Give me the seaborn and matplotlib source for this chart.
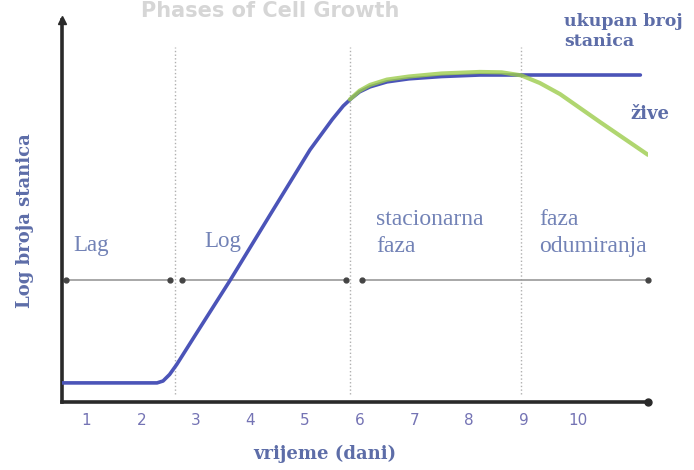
import numpy as np
import pandas as pd
import seaborn as sns
import matplotlib.pyplot as plt

# curve (x = days, y = log of cell count, arbitrary units)
total_x = [0.55, 2.29, 2.4, 2.52, 2.65, 2.99, 3.63, 4.36, 5.09, 5.5, 5.7, 5.85,
           6.0, 6.19, 6.5, 6.9, 7.5, 8.2, 11.14]
total_y = [0.5, 0.5, 0.55, 0.72, 0.98, 1.75, 3.19, 4.9, 6.6, 7.4, 7.75, 7.95,
           8.12, 8.25, 8.38, 8.46, 8.52, 8.56, 8.56]
alive_x = [5.82, 6.0, 6.19, 6.5, 6.9, 7.5, 8.2, 8.6, 8.96, 9.3, 9.67, 10.4, 11.28]
alive_y = [7.92, 8.15, 8.3, 8.44, 8.52, 8.6, 8.64, 8.63, 8.55, 8.35, 8.06, 7.33, 6.47]
phase_edges = [2.62, 5.83, 8.96]
arrow_segments = [(0.62, 2.53), (2.75, 5.75), (6.04, 11.28)]
day_ticks = [1, 2, 3, 4, 5, 6, 7, 8, 9, 10]

sns.set_theme(style="white")
plt.rcParams['font.family'] = ['DejaVu Sans']

fig = plt.figure(figsize=(6.94, 4.70), dpi=100)
ax = fig.add_axes([62 / 694, 68 / 470, 586 / 694, 382 / 470])
ax.set_xlim(0.55, 11.28)
ax.set_ylim(0, 10)

blue = '#4b54b8'
green = '#9ccc4c'
txt = '#5d6da8'
phase_col = '#7282b6'

# phase separators
for xe in phase_edges:
    ax.plot([xe, xe], [0.2, 9.3], color='#b0b0b0', lw=1, ls=':', zorder=1)

# double-headed phase arrows
for a, b in arrow_segments:
    ax.plot([a, b], [3.19, 3.19], color='#9a9a9a', lw=1.2, zorder=1, clip_on=False)
    ax.plot([a, b], [3.19, 3.19], ls='none', marker='o', ms=3.5, color='#444444',
            zorder=2, clip_on=False)

df_total = pd.DataFrame({'x': total_x, 'y': total_y})
df_alive = pd.DataFrame({'x': alive_x, 'y': alive_y})
sns.lineplot(data=df_total, x='x', y='y', ax=ax, color=blue, lw=2.6, sort=False, zorder=3)
sns.lineplot(data=df_alive, x='x', y='y', ax=ax, color=green, lw=3, sort=False, zorder=4,
             alpha=0.8)

# axes look
for s in ['top', 'right']:
    ax.spines[s].set_visible(False)
for s in ['left', 'bottom']:
    ax.spines[s].set_color('#2a2a2a')
    ax.spines[s].set_linewidth(2.6)
ax.plot([0.55], [10], marker='^', ms=6, color='#2a2a2a', clip_on=False, zorder=5)
ax.plot([11.28], [0], marker='o', ms=5, color='#2a2a2a', clip_on=False, zorder=5)

ax.set_xticks(day_ticks)
ax.set_xticklabels([str(d) for d in day_ticks])
ax.set_yticks([])
ax.tick_params(axis='x', length=0, pad=8, labelsize=11, labelcolor='#7473b4')

bold_serif = dict(family='DejaVu Serif', fontweight='bold', fontsize=13, color=txt)
ax.set_xlabel('vrijeme (dani)', **bold_serif)
ax.set_ylabel('Log broja stanica', **bold_serif)
ax.xaxis.set_label_coords(0.449, -0.113)
ax.yaxis.set_label_coords(-0.047, 0.476)

serif = 'Liberation Serif'
ax.text(0.75, 4.1, 'Lag', family=serif, fontsize=16.5, color=phase_col, va='center')
ax.text(3.15, 4.2, 'Log', family=serif, fontsize=16.5, color=phase_col, va='center')
ax.text(6.3, 4.42, 'stacionarna\nfaza', family=serif, fontsize=17, color=phase_col,
        va='center', linespacing=1.4)
ax.text(9.28, 4.42, 'faza\nodumiranja', family=serif, fontsize=17, color=phase_col,
        va='center', linespacing=1.4)
ax.text(9.75, 9.7, 'ukupan broj\nstanica', clip_on=False, va='center',
        linespacing=1.2, **{**bold_serif, 'fontsize': 12.5})
ax.text(10.95, 7.55, 'žive', clip_on=False, va='center', **bold_serif)

# faint title at the very top
fig.text(0.39, 0.998, 'Phases of Cell Growth', fontsize=15, fontweight='bold',
         color='#d6d6d6', ha='center', va='top')

fig.savefig('out.png', dpi=100)
